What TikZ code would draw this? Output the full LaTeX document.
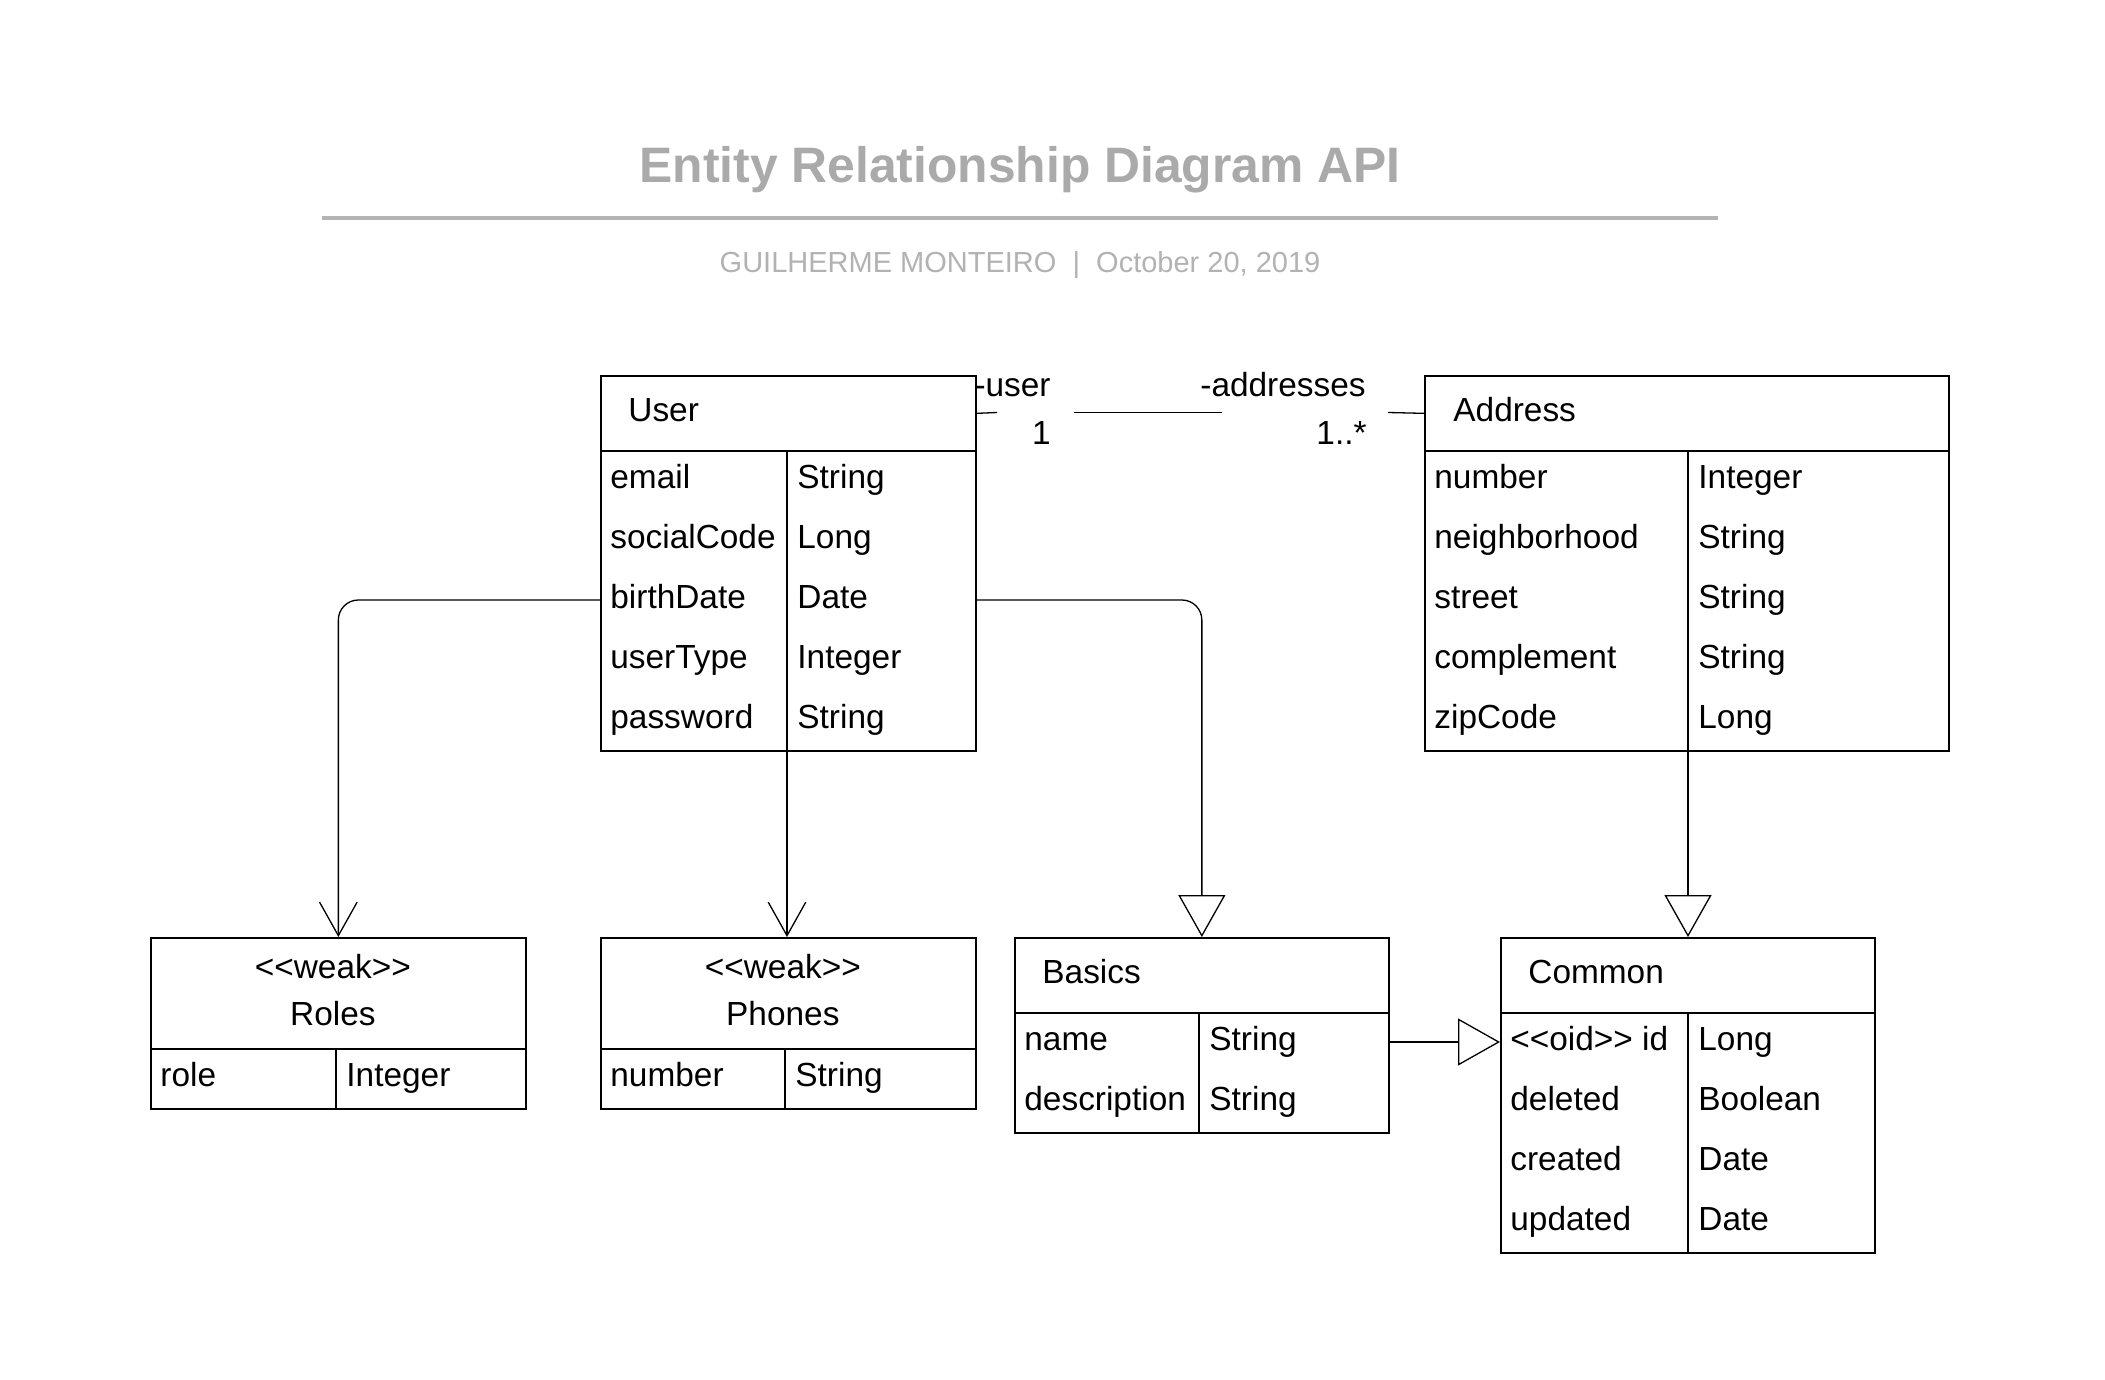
\documentclass[tikz,border=0pt]{standalone}
\usepackage{fontspec}
\setmainfont{Liberation Sans}[Ligatures=TeXOff]
\usetikzlibrary{arrows.meta,positioning}
\definecolor{titlegray}{RGB}{170,170,170}
\definecolor{subgray}{RGB}{178,178,178}
\definecolor{rulegray}{RGB}{180,180,180}
\tikzset{
  box/.style={draw,line width=0.85pt,anchor=north west,inner sep=0pt},
  col/.style={line width=0.85pt},
  attr/.style={anchor=west,inner sep=0pt,text height=12pt,text depth=3.5pt,font=\fontsize{16.7pt}{23.3pt}\selectfont},
  stereo/.style={inner sep=0pt,align=center,font=\fontsize{16.7pt}{23.3pt}\selectfont},
  link/.style={line width=0.65pt},
  has/.style={link,-{Straight Barb[length=16.8pt,width=18.8pt]}},
  isa/.style={link,-{Triangle[length=21pt,width=23.5pt,fill=white]}}
}
\begin{document}
\begin{tikzpicture}[x=0.5pt,y=-0.5pt]
         \useasboundingbox (0,0) rectangle (2105,1380) ;
         %\draw[very thin,gray,step=50] (0,0) grid (2105,1380) ;
         % title
         \node[font=\fontsize{24.9pt}{30pt}\selectfont\bfseries,text=titlegray] (title) at (1020,170) {Entity Relationship Diagram API} ;
         \draw[rulegray,line width=1.7pt] (322,218) -- (1718,218) ;
         \node[font=\fontsize{14.5pt}{17pt}\selectfont,text=subgray] (subtitle) at (1020,265) {GUILHERME MONTEIRO\ \ |\ \ October 20, 2019} ;
         % User
         \node[box,minimum width=187.5pt,minimum height=37.5pt] (user) at (600,375) {} ;
         \node[attr,right=14pt of user.west] (userName) {User} ;
         \node[box,minimum width=187.5pt,minimum height=150pt] (userBody) at (600,450) {} ;
         \draw[col] (787,450) -- (787,749) coordinate (userCol) ;
         \node[attr] (userEmail) at (610,480) {email} ;
         \node[attr] at (797,480) {String} ;
         \node[attr] (userSocial) at (610,540) {socialCode} ;
         \node[attr] at (797,540) {Long} ;
         \node[attr] (userBirth) at (610,600) {birthDate} ;
         \node[attr] at (797,600) {Date} ;
         \node[attr] (userType) at (610,660) {userType} ;
         \node[attr] at (797,660) {Integer} ;
         \node[attr] (userPass) at (610,720) {password} ;
         \node[attr] at (797,720) {String} ;
         % Address
         \node[box,minimum width=262pt,minimum height=37.5pt] (address) at (1424,375) {} ;
         \node[attr,right=14.5pt of address.west] (addressName) {Address} ;
         \node[box,minimum width=262pt,minimum height=150pt] (addressBody) at (1424,450) {} ;
         \draw[col] (1688,450) -- (1688,749) coordinate (addressCol) ;
         \node[attr] (addrNumber) at (1434,480) {number} ;
         \node[attr] at (1698,480) {Integer} ;
         \node[attr] (addrHood) at (1434,540) {neighborhood} ;
         \node[attr] at (1698,540) {String} ;
         \node[attr] (addrStreet) at (1434,600) {street} ;
         \node[attr] at (1698,600) {String} ;
         \node[attr] (addrCompl) at (1434,660) {complement} ;
         \node[attr] at (1698,660) {String} ;
         \node[attr] (addrZip) at (1434,720) {zipCode} ;
         \node[attr] at (1698,720) {Long} ;
         % Roles
         \node[box,minimum width=187.5pt,minimum height=55.5pt] (roles) at (150,937) {} ;
         \node[stereo] (rolesName) at ([shift={(-5.5,-3)}]roles.center) {<<weak>>\\Roles} ;
         \node[box,minimum width=187.5pt,minimum height=30pt] (rolesBody) at (150,1048) {} ;
         \draw[col] (336,1048) -- (336,1108) ;
         \node[attr] (rolesRole) at (160,1078) {role} ;
         \node[attr] at (346,1078) {Integer} ;
         % Phones
         \node[box,minimum width=187.5pt,minimum height=55.5pt] (phones) at (600,937) {} ;
         \node[stereo] (phonesName) at ([shift={(-5.5,-3)}]phones.center) {<<weak>>\\Phones} ;
         \node[box,minimum width=187.5pt,minimum height=30pt] (phonesBody) at (600,1048) {} ;
         \draw[col] (785,1048) -- (785,1108) ;
         \node[attr] (phonesNumber) at (610,1078) {number} ;
         \node[attr] at (795,1078) {String} ;
         % Basics
         \node[box,minimum width=187pt,minimum height=37.5pt] (basics) at (1014,937) {} ;
         \node[attr,right=14pt of basics.west] (basicsTitle) {Basics} ;
         \node[box,minimum width=187pt,minimum height=60pt] (basicsBody) at (1014,1012) {} ;
         \draw[col] (1199,1012) -- (1199,1132) ;
         \node[attr] (basicsName) at (1024,1042) {name} ;
         \node[attr] at (1209,1042) {String} ;
         \node[attr] (basicsDesc) at (1024,1102) {description} ;
         \node[attr] at (1209,1102) {String} ;
         % Common
         \node[box,minimum width=187pt,minimum height=37.5pt] (common) at (1500,937) {} ;
         \node[attr,right=14pt of common.west] (commonTitle) {Common} ;
         \node[box,minimum width=187pt,minimum height=120pt] (commonBody) at (1500,1012) {} ;
         \draw[col] (1688,1012) -- (1688,1252) ;
         \node[attr] (commonId) at (1510,1042) {<<oid>> id} ;
         \node[attr] at (1698,1042) {Long} ;
         \node[attr] (commonDeleted) at (1510,1102) {deleted} ;
         \node[attr] at (1698,1102) {Boolean} ;
         \node[attr] (commonCreated) at (1510,1162) {created} ;
         \node[attr] at (1698,1162) {Date} ;
         \node[attr] (commonUpdated) at (1510,1222) {updated} ;
         \node[attr] at (1698,1222) {Date} ;
         % user -- addresses
         \coordinate (assocA) at (997,412.5) ;
         \coordinate (assocB) at (1074,412.5) ;
         \coordinate (assocC) at (1222,412.5) ;
         \coordinate (assocD) at (1388,412.5) ;
         \draw[link] (user.east) -- (assocA) ;
         \draw[link] (assocB) -- (assocC) ;
         \draw[link] (assocD) -- (address.west) ;
         \node[attr,anchor=east] (roleUser) at (1051,388) {-user} ;
         \node[attr,anchor=east] (multUser) at (1051,436) {1} ;
         \node[attr,anchor=east] (roleAddr) at (1366,388) {-addresses} ;
         \node[attr,anchor=east] (multAddr) at (1367,436) {1..*} ;
         % weak entities and generalisations
         \draw[has,rounded corners=10pt] (userBody.west |- userBirth) -| (roles.north) ;
         \draw[has] (userCol) -- (userCol |- phones.north) ;
         \draw[isa,rounded corners=10pt] (userBody.east |- userBirth) -| (basics.north) ;
         \draw[isa] (addressCol) -- (addressCol |- common.north) ;
         \draw[isa] (basicsBody.east |- basicsName) -- (commonBody.west |- basicsName) ;
       \end{tikzpicture}
\end{document}
